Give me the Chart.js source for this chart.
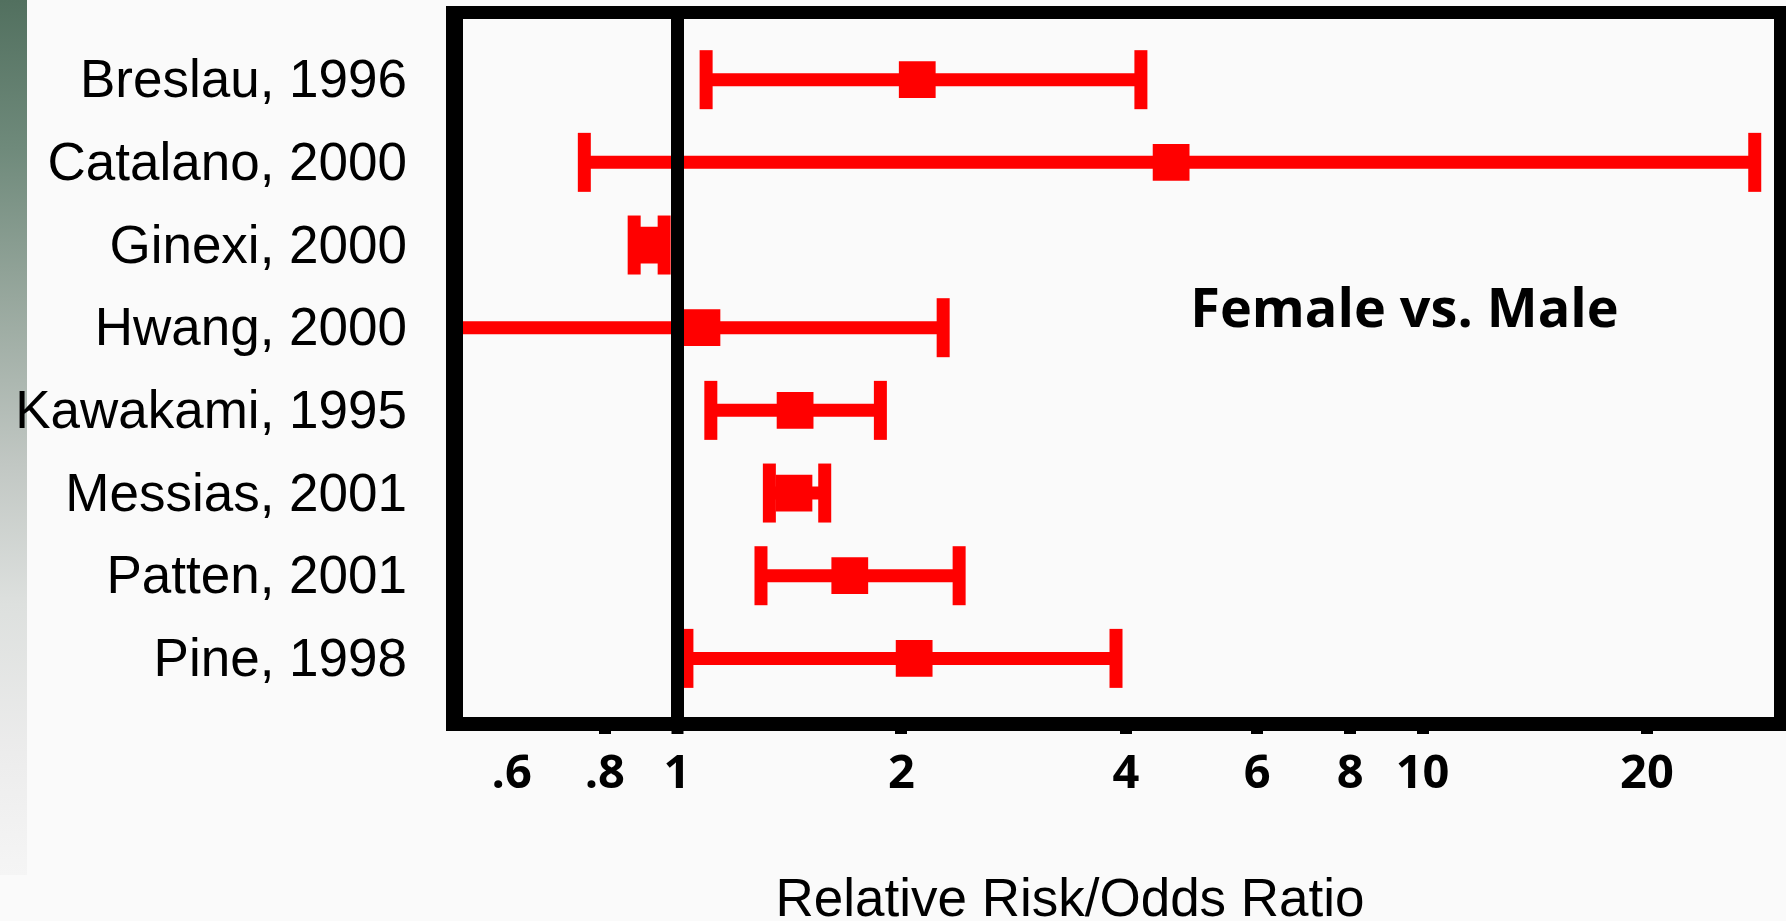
<!DOCTYPE html>
<html>
<head>
<meta charset="utf-8">
<title>Female vs. Male</title>
<script src="https://cdn.jsdelivr.net/npm/chart.js@4.4.1/dist/chart.umd.min.js"></script>
<style>
  html, body { margin: 0; padding: 0; background: #fafafa; }
  #wrap { position: relative; width: 1786px; height: 921px; overflow: hidden; }
  #strip {
    position: absolute; left: 0; top: 0; width: 27px; height: 875px;
    background: linear-gradient(to bottom, #52705f 0%, #6f8a7b 17%, #97a79d 34%, #c1c7c3 53%, #dde0de 69%, #ececec 86%, #f5f5f5 100%);
  }
  canvas { position: absolute; left: 0; top: 0; }
</style>
</head>
<body>
<div id="wrap">
  <div id="strip"></div>
  <canvas id="forestChart" width="1786" height="921"></canvas>
</div>
<script>
// Study labels, top to bottom
const studies = ['Breslau, 1996', 'Catalano, 2000', 'Ginexi, 2000', 'Hwang, 2000',
  'Kawakami, 1995', 'Messias, 2001', 'Patten, 2001', 'Pine, 1998'];

// Point estimate and confidence limits (RR / OR)
const estimate = [2.10, 4.60, 0.917, 1.08, 1.44, 1.435, 1.705, 2.08];
const lowerCI  = [1.094, 0.751, 0.876, 0.505, 1.11, 1.33, 1.296, 1.031];
const upperCI  = [4.19, 27.9, 0.961, 2.275, 1.874, 1.578, 2.39, 3.88];

const xTicks = [0.6, 0.8, 1, 2, 4, 6, 8, 10, 20];
const xTickLabels = ['.6', '.8', '1', '2', '4', '6', '8', '10', '20'];
const xTitle = 'Relative Risk/Odds Ratio';
const note = 'Female vs. Male';

const RED = '#ff0000';

// CI lines as one dataset, segments split with gaps
const ciSegments = [];
studies.forEach((s, i) => {
  ciSegments.push({ x: lowerCI[i], y: i }, { x: upperCI[i], y: i }, { x: null, y: null });
});

const capPoints = [];
studies.forEach((s, i) => {
  capPoints.push({ x: lowerCI[i], y: i }, { x: upperCI[i], y: i });
});

const framePlugin = {
  id: 'frame',
  afterDatasetsDraw(chart) {
    const { ctx, scales } = chart;
    ctx.save();
    ctx.fillStyle = '#000';
    ctx.font = 'bold 54px "Open Sans"';
    ctx.textAlign = 'left';
    ctx.textBaseline = 'alphabetic';
    ctx.fillText(note, scales.x.getPixelForValue(4.88), scales.y.getPixelForValue(3) - 1);
    ctx.restore();
  },
  afterDraw(chart) {
    const { ctx, chartArea: a } = chart;
    ctx.save();
    ctx.fillStyle = '#000';
    ctx.fillRect(a.left - 17, a.top - 13, 17, a.bottom - a.top + 27);
    ctx.fillRect(a.left - 17, a.top - 13, a.right - a.left + 31, 13);
    ctx.fillRect(a.right, a.top - 13, 14, a.bottom - a.top + 27);
    ctx.fillRect(a.left - 17, a.bottom, a.right - a.left + 31, 14);

    ctx.font = '53px "Liberation Sans", Arial, sans-serif';
    ctx.textAlign = 'center';
    ctx.textBaseline = 'alphabetic';
    ctx.fillText(xTitle, 1070, 916);
    ctx.restore();
  }
};

new Chart(document.getElementById('forestChart'), {
  type: 'line',
  data: {
    datasets: [
      {
        label: 'CI',
        data: ciSegments,
        borderColor: RED,
        borderWidth: 13,
        borderCapStyle: 'butt',
        pointRadius: 0,
        spanGaps: false,
        order: 3
      },
      {
        label: 'Limits',
        data: capPoints,
        showLine: false,
        pointStyle: 'line',
        rotation: 90,
        pointRadius: 29.5,
        pointBorderWidth: 13,
        pointBorderColor: RED,
        pointBackgroundColor: RED,
        order: 2
      },
      {
        label: 'Estimate',
        data: studies.map((s, i) => ({ x: estimate[i], y: i })),
        showLine: false,
        pointStyle: 'rect',
        pointRadius: 26,
        pointBorderWidth: 0,
        pointBackgroundColor: RED,
        order: 1
      }
    ]
  },
  options: {
    responsive: false,
    animation: false,
    devicePixelRatio: 1,
    layout: { autoPadding: false, padding: { left: 0, top: 19, right: 12, bottom: 0 } },
    plugins: { legend: { display: false }, tooltip: { enabled: false } },
    scales: {
      x: {
        type: 'logarithmic',
        min: 0.5163,
        max: 29.61,
        afterBuildTicks: (s) => { s.ticks = xTicks.map(v => ({ value: v })); },
        afterFit: (s) => {
          s.height = 204;
          s.paddingLeft = 0;
          s.paddingRight = 0;
        },
        border: { display: false },
        grid: {
          z: 1,
          color: '#000',
          lineWidth: (c) => (c.tick && c.tick.value === 1 ? 13 : 0),
          drawTicks: true,
          tickLength: 17,
          tickColor: '#000',
          tickWidth: (c) => (c.tick && c.tick.value === 0.6 ? 0 : 12)
        },
        ticks: {
          autoSkip: false,
          maxRotation: 0,
          padding: 12,
          color: '#000',
          font: { family: '"Open Sans"', size: 47, weight: 'bold' },
          callback: (v, i) => xTickLabels[i]
        }
      },
      y: {
        type: 'linear',
        reverse: true,
        min: -0.734,
        max: 7.709,
        afterBuildTicks: (s) => { s.ticks = studies.map((_, i) => ({ value: i })); },
        afterFit: (s) => {
          s.width = 463;
          s.paddingTop = 0;
          s.paddingBottom = 0;
        },
        border: { display: false },
        grid: { display: false, drawTicks: false },
        ticks: {
          autoSkip: false,
          padding: 56,
          labelOffset: 3,
          color: '#000',
          font: { family: '"Liberation Sans", Arial, sans-serif', size: 53 },
          callback: (v) => studies[v]
        }
      }
    }
  },
  plugins: [framePlugin]
});
</script>
</body>
</html>
